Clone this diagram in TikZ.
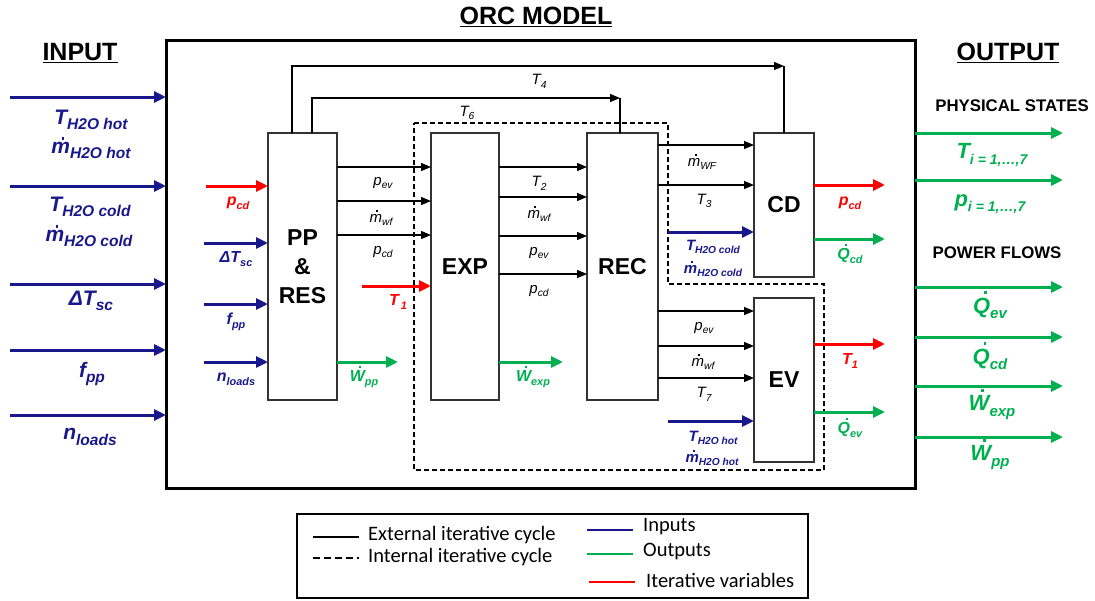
\documentclass[tikz,border=0pt]{standalone}
\usepackage{fontspec}
\setmainfont{Liberation Sans}
\newfontfamily\legfont{Carlito}
\usetikzlibrary{arrows.meta}
\definecolor{inblue}{RGB}{24,24,140}
\definecolor{outgreen}{RGB}{0,176,80}
\definecolor{itred}{RGB}{255,0,0}
\newcommand\sub[2][0.68]{\raisebox{-0.25em}{\scalebox{#1}{#2}}}
\newcommand\dotx[3]{\leavevmode\setbox0\hbox{#3}\rlap{\kern\dimexpr(\wd0-0.13em)/2+#1\relax\raisebox{#2}{\rule{0.13em}{0.13em}}}\box0}
\newcommand\dm{\dotx{0.10em}{0.66em}{m}}
\newcommand\dQ{\dotx{0.17em}{0.86em}{Q}}
\newcommand\dW{\dotx{0.17em}{0.86em}{W}}
\tikzset{
 blk/.style={draw=black!80, line width=1.2pt, anchor=north west, inner sep=0, outer sep=0,
   font=\fontsize{23}{29}\selectfont\bfseries, align=center},
 blkarr/.style={line width=1.3pt, -{Triangle[length=10pt,width=8pt]}},
 colarr/.style={line width=3pt, -{Triangle[length=12pt,width=11pt]}},
 inarr/.style={colarr, draw=inblue, fill=inblue},
 outarr/.style={colarr, draw=outgreen, fill=outgreen},
 itarr/.style={colarr, draw=itred, fill=itred},
 big/.style={font=\fontsize{21}{23}\selectfont\bfseries\itshape, inner sep=0, text=inblue},
 rbig/.style={font=\fontsize{22}{24}\selectfont\bfseries\itshape, inner sep=0, text=outgreen},
 sm/.style={font=\fontsize{16}{18}\selectfont\bfseries\itshape, inner sep=0},
 smb/.style={font=\fontsize{15}{17}\selectfont\bfseries\itshape, inner sep=0, text=inblue},
 bl/.style={font=\fontsize{15}{17}\selectfont\itshape, inner sep=0},
 ttl/.style={font=\fontsize{25}{28}\selectfont\bfseries, inner sep=0},
 hdr/.style={font=\fontsize{16.8}{18}\selectfont\bfseries, inner sep=0},
 legtxt/.style={font=\legfont\fontsize{20.5}{22}\selectfont, anchor=west, inner sep=0},
}
\begin{document}
\begin{tikzpicture}[x=1pt,y=-1pt]
\useasboundingbox (0,0) rectangle (1095,600);
% titles
\node[ttl] (torc) at (536,17) {\underline{ORC MODEL}};
\node[ttl] (tin) at (80,53) {\underline{INPUT}};
\node[ttl] (tout) at (1008,53) {\underline{OUTPUT}};
% main box
\node[draw, line width=3pt, outer sep=0, inner sep=0, anchor=north west,
  minimum width=749pt, minimum height=448pt] (orc) at (166,40) {};
% dashed internal cycle
\draw[dashed, dash pattern=on 5pt off 3pt, line width=1.3pt]
  (414,123) -- (668,123) -- (668,284) -- (824,284) -- (824,470) -- (414,470) -- cycle;
% blocks
\node[blk, minimum width=69pt, minimum height=267pt] (pp) at (268,133) {PP\\\&\\RES};
\node[blk, minimum width=68pt, minimum height=267pt] (exp) at (431,133) {EXP};
\node[blk, minimum width=71pt, minimum height=267pt] (rec) at (587,133) {REC};
\node[blk, minimum width=60pt, minimum height=144pt] (cd) at (754,133) {CD};
\node[blk, minimum width=60pt, minimum height=164pt] (ev) at (754,298) {EV};
% loops T4, T6
\coordinate (t4) at (292,66);
\coordinate (t6) at (312,98);
\coordinate (t6e) at (620,98);
\draw[blkarr] (pp.north -| t4) -- (t4) -- (t4 -| cd.north);
\draw[line width=1.3pt] (t4 -| cd.north) -- (cd.north);
\draw[blkarr] (pp.north -| t6) -- (t6) -- (t6e);
\draw[line width=1.3pt] (t6e) -- (rec.north -| t6e);
\node[bl] (lt4) at (539,81) {T\sub{4}};
\node[bl] (lt6) at (467,113) {T\sub{6}};
% left inputs
\foreach \y [count=\i] in {97,186,284,350,415} {
  \coordinate (in\i) at (10,\y);
  \draw[inarr] (in\i) -- (orc.west |- in\i);
}
\node[big] (l1a) at (91,120) {T\sub[0.74]{H2O hot}};
\node[big] (l1b) at (91,148) {\dm\sub[0.74]{H2O hot}};
\node[big] (l2a) at (90,207) {T\sub[0.74]{H2O cold}};
\node[big] (l2b) at (89,236) {\dm\sub[0.74]{H2O cold}};
\node[big] (l3) at (91,301) {ΔT\sub[0.74]{sc}};
\node[big] (l4) at (92,374) {f\sub[0.74]{pp}};
\node[big] (l5) at (90,437) {n\sub[0.74]{loads}};
% PP inputs
\coordinate (ppin1) at (206,186);
\coordinate (ppin2) at (204,243);
\coordinate (ppin3) at (204,304);
\coordinate (ppin4) at (204,362);
\draw[itarr] (ppin1) -- (pp.west |- ppin1);
\draw[inarr] (ppin2) -- (pp.west |- ppin2);
\draw[inarr] (ppin3) -- (pp.west |- ppin3);
\draw[inarr] (ppin4) -- (pp.west |- ppin4);
\node[sm, text=itred] (lpp1) at (238,203) {p\sub{cd}};
\node[sm, text=inblue] (lpp2) at (236,259) {ΔT\sub{sc}};
\node[sm, text=inblue] (lpp3) at (236,322) {f\sub{pp}};
\node[sm, text=inblue] (lpp4) at (236,379) {n\sub{loads}};
% PP -> EXP
\foreach \y in {167,201,235} { \draw[blkarr] (pp.east |- 0,\y) -- (exp.west |- 0,\y); }
\node[bl] (lpe1) at (383,183) {p\sub{ev}};
\node[bl] (lpe2) at (381,218) {\dm\sub{wf}};
\node[bl] (lpe3) at (383,252) {p\sub{cd}};
\coordinate (t1s) at (362,286);
\draw[itarr] (t1s) -- (exp.west |- t1s);
\node[sm, text=itred] (lt1) at (398,302) {T\sub{\,1}};
\coordinate (wpp) at (398,362);
\draw[outarr] (pp.east |- wpp) -- (wpp);
\node[sm, text=outgreen] (lwpp) at (364,377) {\dW\sub{pp}};
% EXP -> REC
\foreach \y in {167,197,236,274} { \draw[blkarr] (exp.east |- 0,\y) -- (rec.west |- 0,\y); }
\node[bl] (ler1) at (539,183) {T\sub{2}};
\node[bl] (ler2) at (539,214) {\dm\sub{wf}};
\node[bl] (ler3) at (539,253) {p\sub{ev}};
\node[bl] (ler4) at (539,291) {p\sub{cd}};
\coordinate (wexp) at (563,362);
\draw[outarr] (exp.east |- wexp) -- (wexp);
\node[sm, text=outgreen] (lwexp) at (533,377) {\dW\sub{exp}};
% REC -> CD
\foreach \y in {145,185} { \draw[blkarr] (rec.east |- 0,\y) -- (cd.west |- 0,\y); }
\node[bl] (lrc1) at (702,162) {\dm\sub{WF}};
\node[bl] (lrc2) at (704,201) {T\sub{3}};
\coordinate (cdin) at (668,232);
\draw[inarr] (cdin) -- (cd.west |- cdin);
\node[smb] (lcd1) at (713,247) {T\sub{H2O cold}};
\node[smb] (lcd2) at (713,269) {\dm\sub{H2O cold}};
\coordinate (cdo1) at (885,185);
\coordinate (cdo2) at (885,239);
\draw[itarr] (cd.east |- cdo1) -- (cdo1);
\draw[outarr] (cd.east |- cdo2) -- (cdo2);
\node[sm, text=itred] (lcdo1) at (850,203) {p\sub{cd}};
\node[sm, text=outgreen] (lcdo2) at (850,254) {\dQ\sub{cd}};
% REC -> EV
\foreach \y in {311,346,378} { \draw[blkarr] (rec.east |- 0,\y) -- (ev.west |- 0,\y); }
\node[bl] (lre1) at (704,328) {p\sub{ev}};
\node[bl] (lre2) at (703,362) {\dm\sub{wf}};
\node[bl] (lre3) at (704,394) {T\sub{7}};
\coordinate (evin) at (668,421);
\draw[inarr] (evin) -- (ev.west |- evin);
\node[smb] (lev1) at (713,438) {T\sub{H2O hot}};
\node[smb] (lev2) at (712,458) {\dm\sub{H2O hot}};
\coordinate (evo1) at (885,344);
\coordinate (evo2) at (885,412);
\draw[itarr] (ev.east |- evo1) -- (evo1);
\draw[outarr] (ev.east |- evo2) -- (evo2);
\node[sm, text=itred] (levo1) at (850,361) {T\sub{1}};
\node[sm, text=outgreen] (levo2) at (850,428) {\dQ\sub{ev}};
% right outputs
\foreach \y [count=\i] in {133,180,287,337,386,437} {
  \coordinate (out\i) at (1063,\y);
  \draw[outarr] (orc.east |- out\i) -- (out\i);
}
\node[hdr] (hphys) at (1012,106) {PHYSICAL STATES};
\node[hdr] (hpow) at (997,253) {POWER FLOWS};
\node[rbig] (o1) at (992,155) {T\sub[0.64]{i = 1,…,7}};
\node[rbig] (o2) at (990,204) {p\sub[0.64]{i = 1,…,7}};
\node[rbig] (o3) at (990,305) {\dQ\sub{ev}};
\node[rbig] (o4) at (990,356) {\dQ\sub{cd}};
\node[rbig] (o5) at (992,404) {\dW\sub{exp}};
\node[rbig] (o6) at (990,454) {\dW\sub{pp}};
% legend
\node[draw, line width=1.2pt, anchor=north west, inner sep=0, outer sep=0,
  minimum width=511pt, minimum height=84pt] (leg) at (297,514) {};
\draw[line width=2.5pt] (313,537) -- (359,537);
\draw[line width=2.5pt, dash pattern=on 7pt off 4pt] (313,558) -- (359,558);
\draw[line width=2.5pt, inblue] (587,530) -- (633,530);
\draw[line width=2.5pt, outgreen] (587,554) -- (633,554);
\draw[line width=2.5pt, itred] (589,582) -- (635,582);
\node[legtxt] (lg1) at (368,535) {External iterative cycle};
\node[legtxt] (lg2) at (368,557) {Internal iterative cycle};
\node[legtxt] (lg3) at (643,527) {Inputs};
\node[legtxt] (lg4) at (643,551) {Outputs};
\node[legtxt] (lg5) at (646,580) {Iterative variables};
\end{tikzpicture}
\end{document}
